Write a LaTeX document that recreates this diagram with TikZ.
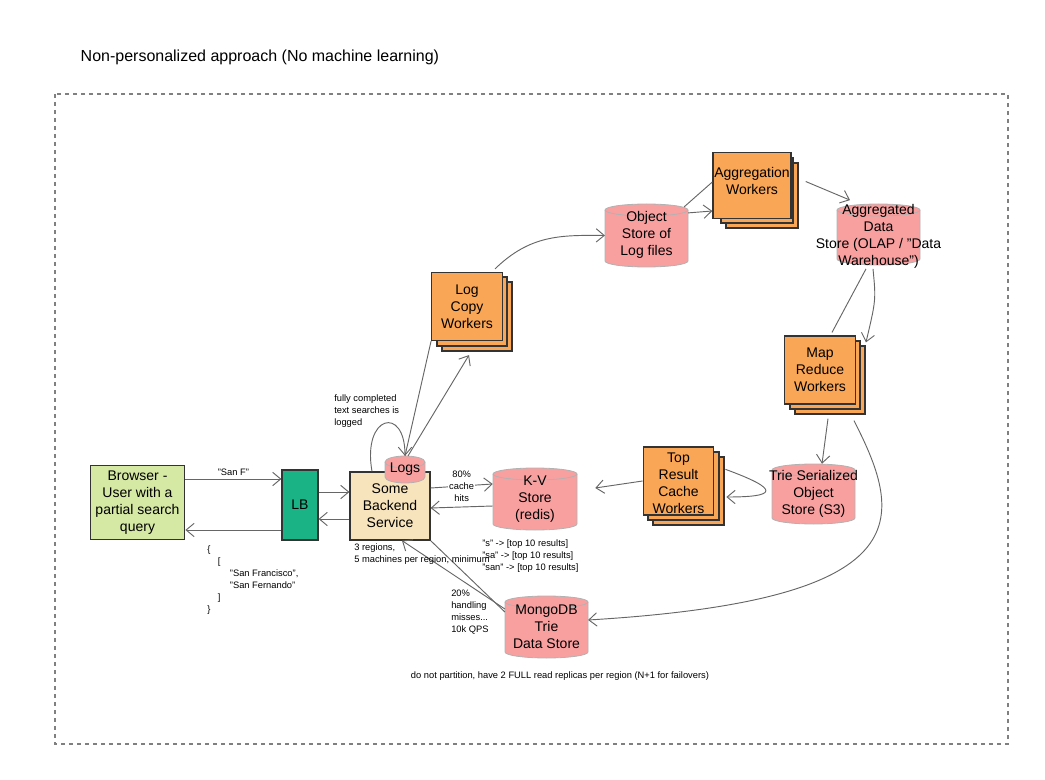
\documentclass[tikz,border=0pt]{standalone}
\usepackage{fontspec}
\setmainfont{Liberation Sans}
\usetikzlibrary{arrows.meta,calc}
\definecolor{cgreen}{HTML}{D5E8A4}
\definecolor{clb}{HTML}{1AB385}
\definecolor{cbeige}{HTML}{F7E4BD}
\definecolor{cpink}{HTML}{F8A0A0}
\definecolor{corange}{HTML}{F9A657}
\definecolor{cline}{HTML}{666666}
\tikzset{
  box/.style={draw=black!80,line width=0.9pt,align=center,font=\fontsize{10.5}{12.75}\selectfont,inner sep=1pt},
  worker/.style={box,fill=corange,minimum width=53pt,minimum height=51pt},
  cyltext/.style={align=center,font=\fontsize{10.5}{12.75}\selectfont,inner sep=0pt},
  cyl/.style={fill=cpink,draw=black!30,line width=0.6pt},
  small/.style={font=\fontsize{7}{9}\selectfont,align=left,inner sep=0pt},
  arr/.style={draw=cline,line width=0.7pt,-{Straight Barb[length=6pt,width=10pt]}},
  ln/.style={draw=cline,line width=0.7pt},
}
\newcommand\mycyl[4]{%
  \pgfmathsetmacro\myrx{(#3-#1)/2*0.75}%
  \filldraw[cyl] (#1,#2+6) -- (#1,#4-6) arc(180:360:\myrx pt and 4.5pt) -- (#3,#2+6) arc(0:180:\myrx pt and 4.5pt) -- cycle;
  \draw[cyl] (#1,#2+6) arc(180:360:\myrx pt and 4.5pt);
}
\newcommand\mystack[4]{%
  \filldraw[fill=corange,draw=black!80,line width=0.9pt] (#1+10,#2+10) rectangle (#3+10,#4+10);
  \filldraw[fill=corange,draw=black!80,line width=0.9pt] (#1+5,#2+5) rectangle (#3+5,#4+5);
}
\begin{document}
\begin{tikzpicture}[x=0.75pt,y=-0.75pt]
\useasboundingbox (0,0) rectangle (1045,780);
\node[anchor=west,font=\fontsize{12}{14}\selectfont] (title) at (76,57) {Non-personalized approach (No machine learning)};
\draw[black!50,dashed,line width=0.8pt] (55,94) rectangle (1008,744);

% main nodes
\node[box,fill=cgreen,minimum width=71pt,minimum height=55pt] (br) at (137.5,502.5) {Browser -\\User with a\\partial search\\query};
\node[box,fill=clb,minimum width=27pt,minimum height=52.5pt] (lb) at (300,505) {LB};
\node[box,fill=cbeige,minimum width=60pt,minimum height=51pt] (be) at (390,506) {Some\\Backend\\Service};

\mycyl{385}{456}{425}{483}
\node[cyltext,minimum width=30pt,minimum height=20pt] (logs) at (405,469.5) {\raisebox{-3pt}{Logs}};
\mycyl{493}{468}{577}{530}
\node[cyltext,minimum width=63pt,minimum height=46.5pt] (kv) at (535,499) {\\[-6pt]K-V\\Store\\(redis)};
\mycyl{505}{596}{588}{658}
\node[cyltext,minimum width=62pt,minimum height=46.5pt] (mg) at (546.5,627) {\\[-6pt]MongoDB\\Trie\\Data Store};
\mycyl{605}{204}{688}{267}
\node[cyltext,minimum width=62pt,minimum height=47pt] (os) at (646.5,235.5) {\\[-6pt]Object\\Store of\\Log files};
\mycyl{837}{204}{920}{265}
\node[cyltext,minimum width=62pt,minimum height=46pt] (ads) at (878.5,234.5) {\\[-2pt]Aggregated\\Data\\Store (OLAP / "Data\\Warehouse")};
\mycyl{772}{464}{855}{524}
\node[cyltext,minimum width=62pt,minimum height=45pt] (tr) at (813.5,494) {\\[-6pt]Trie Serialized\\Object\\Store (S3)};

\mystack{432}{272}{502}{341}
\node[worker] (lcw) at (467,306.5) {Log\\Copy\\Workers};
\mystack{716}{153}{788}{218}
\node[worker,minimum width=54pt,minimum height=49pt] (agg) at (752,185.5) {\\[-12pt]Aggregation\\Workers};
\mystack{785}{336}{855}{404}
\node[worker] (mr) at (820,370) {Map\\Reduce\\Workers};
\mystack{643}{447}{714}{515}
\node[worker] (tw) at (678.5,481) {\\[-2pt]Top\\Result\\Cache\\Workers};

% connectors
\draw[arr] (br.east |- 0,479) -- node[above=2pt,small]{"San F"} (lb.west |- 0,479);
\draw[arr] (lb.west |- 0,530) -- (br.east |- 0,530);
\draw[arr] (lb.east |- 0,492) -- (be.west |- 0,492);
\draw[arr] (be.west |- 0,519) -- (lb.east |- 0,519);
\draw[arr] (be.east |- 0,488) -- node[small,fill=white,align=center,inner sep=1pt]{80\%\\cache\\hits} (kv.west |- 0,484);
\draw[arr] (kv.west |- 0,506) -- (be.east |- 0,508);
\draw[ln] (be.south east) -- (mg.west |- 0,612);
\draw[arr] (mg.west |- 0,609) -- (be.south -| 402,0);
\draw[arr] (be.north -| 372,0) .. controls (362,415) and (405,405) .. (logs.north);
\draw[ln] (logs.north) -- (lcw.south west);
\draw[arr] ($(logs.north)+(3,0)$) -- ($(lcw.south)+(2,14)$);
\draw[arr] ($(lcw.north)+(28,-3)$) .. controls (530,235) and (560,235) .. (os.west);
\draw[ln] ($(os.north east)+(-4,3)$) -- (agg.west |- 0,182);
\draw[arr] ($(os.north east)+(0,9)$) -- (agg.west |- 0,211);
\draw[arr] ($(agg.east)+(14,-4)$) -- (ads.north -| 850,0);
\draw[ln] (ads.south -| 866,0) -- ($(mr.north)+(12,-3)$);
\draw[arr] (ads.south -| 873,0) .. controls (876,300) .. ($(mr.north east)+(10,7)$);
\draw[arr] ($(mr.south)+(8,14)$) -- (tr.north -| 822,0);
\draw[arr] ($(tw.north east)+(11,23)$) .. controls (782,490) and (776,497) .. ($(tw.east)+(12,16)$);
\draw[arr] (tw.west) -- ($(kv.east)+(18,-11)$);
\draw[ln,arr] ($(mr.south east)+(-2,16)$) .. controls (905,520) and (920,600) .. (mg.east |- 0,620);

% texts
\node[small,anchor=north west] (t1) at (334,394) {fully completed\\text searches is\\logged};
\node[small,anchor=north west] (t2) at (354,543) {3 regions,\\5 machines per region, minimum};
\node[small,anchor=north west] (t3) at (482,539) {"s" -> [top 10 results]\\"sa" -> [top 10 results]\\"san" -> [top 10 results]};
\node[small,anchor=north west] (t4) at (451,590) {20\%\\handling\\misses...\\10k QPS};
\node[small] (t5) at (560,676) {do not partition, have 2 FULL read replicas per region (N+1 for failovers)};
\node[small,anchor=north west] (j1) at (207,545) {\{\\\hspace*{8pt}[\\\hspace*{17pt}"San Francisco",\\\hspace*{17pt}"San Fernando"\\\hspace*{8pt}]\\\}};
\end{tikzpicture}
\end{document}
